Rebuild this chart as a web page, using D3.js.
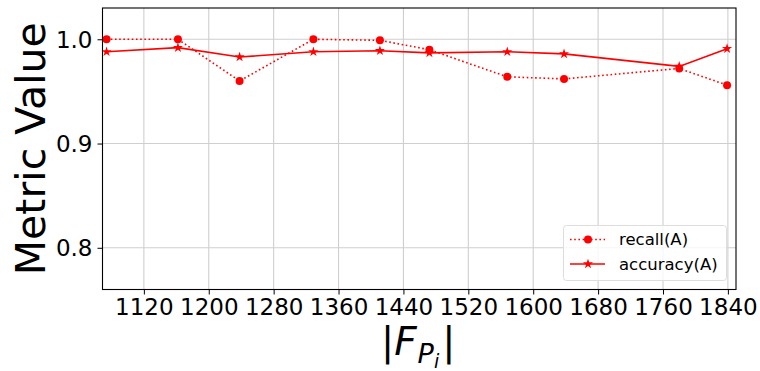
<!DOCTYPE html>
<html><head><meta charset="utf-8">
<script src="https://cdn.jsdelivr.net/npm/d3@7/dist/d3.min.js"></script>
<style>body{margin:0;background:#fff}svg{display:block;font-family:"DejaVu Sans",sans-serif}</style>
</head><body><svg id="c" width="760" height="371"></svg>
<script>
const xValues = [1074, 1162, 1238, 1329, 1411, 1472, 1568, 1638, 1780, 1839];
const recall = [1.0, 1.0, 0.960, 1.0, 0.999, 0.990, 0.964, 0.962, 0.972, 0.956];
const accuracy = [0.988, 0.992, 0.983, 0.988, 0.989, 0.987, 0.988, 0.986, 0.974, 0.991];
const xTicks = [1120, 1200, 1280, 1360, 1440, 1520, 1600, 1680, 1760, 1840];
const yTicks = [0.8, 0.9, 1.0];
const seriesNames = ["recall(A)", "accuracy(A)"];

const svg = d3.select("#c");
const L = 102.5, R = 736, T = 8, B = 289.5;
const x = d3.scaleLinear().domain([1069, 1850]).range([L, R]);
const y = d3.scaleLinear().domain([0.76, 1.03]).range([B, T]);

// grid
const g = svg.append("g");
g.selectAll(".vg").data(xTicks).enter().append("line")
  .attr("x1", d => x(d)).attr("x2", d => x(d)).attr("y1", T).attr("y2", B)
  .attr("stroke", "#cfcfcf").attr("stroke-width", 1.1);
g.selectAll(".hg").data(yTicks).enter().append("line")
  .attr("y1", d => y(d)).attr("y2", d => y(d)).attr("x1", L).attr("x2", R)
  .attr("stroke", "#cfcfcf").attr("stroke-width", 1.1);

// axes
const xAxis = d3.axisBottom(x).tickValues(xTicks).tickSize(5).tickPadding(4).tickFormat(d3.format("d"));
const yAxis = d3.axisLeft(y).tickValues(yTicks).tickSize(5).tickPadding(5).tickFormat(d3.format(".1f"));
const gx = svg.append("g").attr("transform", `translate(0,${B})`).call(xAxis);
const gy = svg.append("g").attr("transform", `translate(${L},0)`).call(yAxis);
[gx, gy].forEach(a => {
  a.attr("font-family", "DejaVu Sans").attr("font-size", 23);
  a.select(".domain").remove();
  a.selectAll("text").attr("fill", "#000");
  a.selectAll("line").attr("stroke", "#000").attr("stroke-width", 1);
});
gx.selectAll("text").attr("dy", "0.72em");
gy.selectAll("text").attr("dy", "0.35em");

// lines
const line = d3.line().x((d, i) => x(xValues[i])).y(d => y(d));
svg.append("path").datum(recall).attr("d", line).attr("fill", "none")
  .attr("stroke", "#ff0000").attr("stroke-width", 1.6).attr("stroke-dasharray", "1.6,2.6");
svg.append("path").datum(accuracy).attr("d", line).attr("fill", "none")
  .attr("stroke", "#ff0000").attr("stroke-width", 1.6);

svg.selectAll(".dot").data(recall).enter().append("circle")
  .attr("cx", (d, i) => x(xValues[i])).attr("cy", d => y(d)).attr("r", 4).attr("fill", "#ff0000");
const star = d3.symbol().type(d3.symbolStar).size(32);
svg.selectAll(".star").data(accuracy).enter().append("path")
  .attr("d", star).attr("transform", (d, i) => `translate(${x(xValues[i])},${y(d)})`).attr("fill", "#ff0000");

// frame
svg.append("rect").attr("x", L).attr("y", T).attr("width", R - L).attr("height", B - T)
  .attr("fill", "none").attr("stroke", "#000").attr("stroke-width", 1.1);

// legend
const lg = svg.append("g");
lg.append("rect").attr("x", 563.5).attr("y", 225.5).attr("width", 163).attr("height", 55).attr("rx", 3)
  .attr("fill", "#fff").attr("fill-opacity", 0.8).attr("stroke", "#dddddd");
const rows = [239.5, 264];
rows.forEach((ry, i) => {
  lg.append("line").attr("x1", 570).attr("x2", 605).attr("y1", ry).attr("y2", ry)
    .attr("stroke", "#ff0000").attr("stroke-width", 1.6).attr("stroke-dasharray", i === 0 ? "1.6,2.6" : null);
  if (i === 0) lg.append("circle").attr("cx", 588).attr("cy", ry).attr("r", 4).attr("fill", "#ff0000");
  else lg.append("path").attr("d", star).attr("transform", `translate(588,${ry})`).attr("fill", "#ff0000");
  lg.append("text").attr("x", 619).attr("y", ry).attr("dy", "0.36em").attr("font-size", 16.5).text(seriesNames[i]);
});

// y label
svg.append("text").attr("transform", `translate(45,${(T + B) / 2}) rotate(-90)`)
  .attr("text-anchor", "middle").attr("font-size", 41).text("Metric Value");

// x label |F_{P_i}|
const xl = svg.append("text").attr("x", 381).attr("y", 355).attr("font-size", 39);
xl.append("tspan").text("|");
xl.append("tspan").attr("font-style", "italic").text("F");
xl.append("tspan").attr("font-style", "italic").attr("font-size", 27).attr("dy", 8).attr("dx", 1).text("P");
xl.append("tspan").attr("font-style", "italic").attr("font-size", 19).attr("dy", 5).text("i");
xl.append("tspan").attr("dy", -13).attr("dx", 3).text("|");
</script></body></html>
